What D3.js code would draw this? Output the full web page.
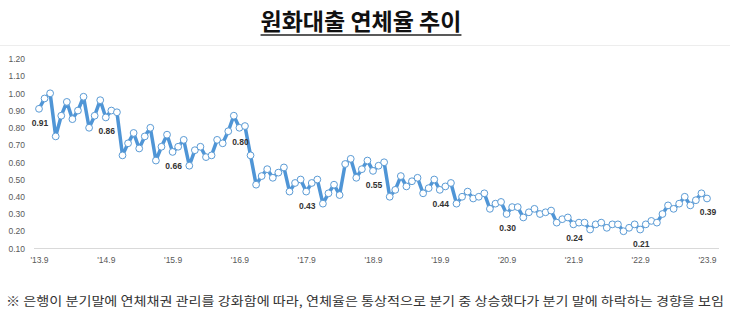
<!DOCTYPE html>
<html><head><meta charset="utf-8">
<script src="https://cdn.jsdelivr.net/npm/d3@7"></script>
<style>body{margin:0;background:#fff}svg{display:block}</style>
</head><body>
<svg id="c" width="730" height="331"></svg>
<script>
const title = "원화대출 연체율 추이";
const note = "※ 은행이 분기말에 연체채권 관리를 강화함에 따라, 연체율은 통상적으로 분기 중 상승했다가 분기 말에 하락하는 경향을 보임";
// monthly from 2013.9 to 2023.9
const rates = [
 0.91,0.97,1.00,0.75,0.87,0.95,0.85,0.90,0.98,0.80,0.87,0.96,
 0.86,0.90,0.89,0.64,0.71,0.77,0.68,0.75,0.80,0.61,0.69,0.76,
 0.66,0.69,0.73,0.58,0.67,0.69,0.63,0.64,0.73,0.71,0.78,0.87,
 0.80,0.81,0.64,0.47,0.52,0.56,0.51,0.54,0.57,0.43,0.48,0.50,
 0.43,0.48,0.50,0.36,0.42,0.47,0.41,0.59,0.62,0.51,0.56,0.61,
 0.55,0.58,0.60,0.40,0.44,0.52,0.46,0.49,0.51,0.42,0.45,0.50,
 0.44,0.46,0.48,0.36,0.40,0.43,0.39,0.40,0.42,0.33,0.36,0.37,
 0.30,0.34,0.34,0.28,0.31,0.33,0.30,0.31,0.32,0.25,0.27,0.28,
 0.24,0.25,0.25,0.21,0.24,0.25,0.22,0.24,0.24,0.20,0.22,0.24,
 0.21,0.24,0.26,0.25,0.30,0.35,0.33,0.36,0.40,0.35,0.38,0.42,
 0.39
];
const xTickLabels = ["'13.9","'14.9","'15.9","'16.9","'17.9","'18.9","'19.9","'20.9","'21.9","'22.9","'23.9"];
const yTicks = [0.10,0.20,0.30,0.40,0.50,0.60,0.70,0.80,0.90,1.00,1.10,1.20];
const labeledIdx = [0,12,24,36,48,60,72,84,96,108,120];

const svg = d3.select("#c");
const x = d3.scaleLinear().domain([0, rates.length-1]).range([39, 707]);
const y = d3.scaleLinear().domain([0.10, 1.20]).range([248.5, 58.8]);

// title
const t = svg.append("text").attr("x", 361).attr("y", 30).attr("text-anchor","middle")
  .attr("font-family","'Noto Sans CJK KR'").attr("font-weight",700).attr("font-size",23)
  .attr("fill","#111").text(title);
const tb = t.node().getBBox();
svg.append("line").attr("x1",tb.x).attr("x2",tb.x+tb.width).attr("y1",35).attr("y2",35)
  .attr("stroke","#222").attr("stroke-width",1.5);
svg.append("line").attr("x1",0).attr("x2",730).attr("y1",45.5).attr("y2",45.5)
  .attr("stroke","#ededed").attr("stroke-width",1);

// y axis labels
const yAxis = d3.axisLeft(y).tickValues(yTicks).tickFormat(d3.format(".2f")).tickSize(0).tickPadding(0);
svg.append("g").attr("transform","translate(25,0)").call(yAxis)
  .call(g=>g.select(".domain").remove())
  .selectAll("text").attr("font-family","'Liberation Sans'").attr("font-size",8.5).attr("fill","#595959");

// x axis
svg.append("line").attr("x1",34).attr("x2",719).attr("y1",248.5).attr("y2",248.5)
  .attr("stroke","#d9d9d9").attr("stroke-width",1);
const xAxis = d3.axisBottom(x).tickValues(labeledIdx).tickFormat((d,i)=>xTickLabels[i]).tickSize(0).tickPadding(8);
svg.append("g").attr("transform","translate(0,248.5)").call(xAxis)
  .call(g=>g.select(".domain").remove())
  .selectAll("text").attr("font-family","'Liberation Sans'").attr("font-size",8.5).attr("fill","#595959");

// line
const line = d3.line().x((d,i)=>x(i)).y(d=>y(d));
svg.append("path").datum(rates).attr("d",line).attr("fill","none")
  .attr("stroke","#4f95d6").attr("stroke-width",3.5).attr("stroke-linejoin","round");
svg.append("g").selectAll("circle").data(rates).join("circle")
  .attr("cx",(d,i)=>x(i)).attr("cy",d=>y(d)).attr("r",3.4)
  .attr("fill","#fff").attr("stroke","#5b9bd5").attr("stroke-width",1);

// data labels
svg.append("g").selectAll("text").data(labeledIdx).join("text")
  .attr("x",i=>x(i)+1).attr("y",i=>y(rates[i])+17).attr("text-anchor","middle")
  .attr("font-family","'Liberation Sans'").attr("font-weight",700).attr("font-size",8.5)
  .attr("fill","#333").text(i=>rates[i].toFixed(2));

// note
svg.append("text").attr("x",6).attr("y",306).attr("font-family","'Noto Sans CJK KR'")
  .attr("font-size",12.5).attr("fill","#333").attr("textLength",718).attr("lengthAdjust","spacingAndGlyphs").text(note);
</script>
</body></html>
